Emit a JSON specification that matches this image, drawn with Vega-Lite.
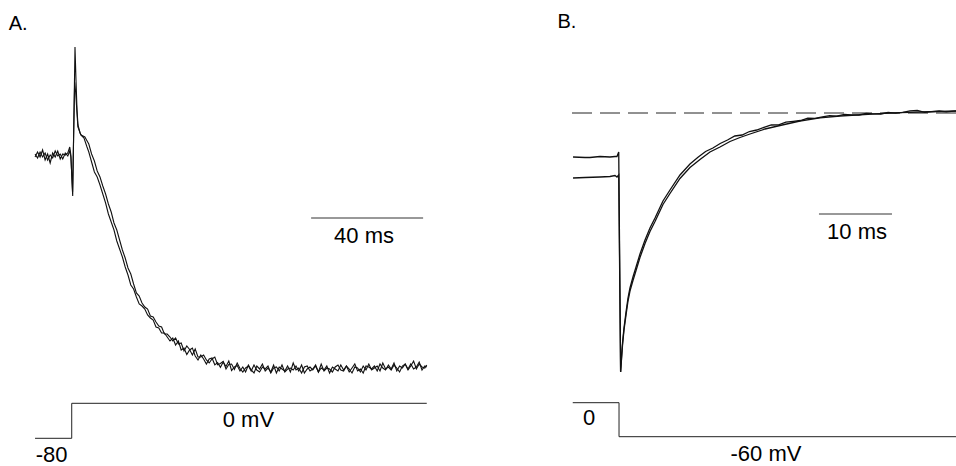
{
"$schema":"https://vega.github.io/schema/vega-lite/v6.json",
"padding":0,
"background":"white",
"config":{"view":{"stroke":null},"font":"Liberation Sans"},
"spacing":126,
"bounds":"flush",
"hconcat":[
{
"width":427,"height":466,
"resolve":{"scale":{"y":"independent"}},
"layer":[
{
"layer":[
{
"data":{"values":[
{"s":1,"t":-13.2,"i":2.10},{"s":1,"t":-12.3,"i":2.15},{"s":1,"t":-11.4,"i":2.10},{"s":1,"t":-10.5,"i":2.17},{"s":1,"t":-9.6,"i":2.07},{"s":1,"t":-8.7,"i":2.13},{"s":1,"t":-7.8,"i":2.04},{"s":1,"t":-6.9,"i":2.14},{"s":1,"t":-6.0,"i":2.10},{"s":1,"t":-5.1,"i":2.16},{"s":1,"t":-4.2,"i":2.08},{"s":1,"t":-3.3,"i":2.13},{"s":1,"t":-2.4,"i":2.12},{"s":1,"t":-1.5,"i":2.14},{"s":1,"t":-0.8,"i":2.20},{"s":1,"t":-0.4,"i":2.12},{"s":1,"t":0.25,"i":1.71},{"s":1,"t":1.07,"i":3.20},{"s":1,"t":1.43,"i":2.87},{"s":1,"t":1.79,"i":2.57},{"s":1,"t":2.14,"i":2.42},{"s":1,"t":2.86,"i":2.34},{"s":1,"t":3.5,"i":2.31},{"s":1,"t":4.29,"i":2.29},{"s":1,"t":5.36,"i":2.20},
{"s":1,"t":6,"i":2.15},{"s":1,"t":7,"i":2.05},{"s":1,"t":8,"i":1.95},{"s":1,"t":9,"i":1.90},{"s":1,"t":10,"i":1.82},{"s":1,"t":11,"i":1.73},{"s":1,"t":12,"i":1.64},{"s":1,"t":13,"i":1.53},{"s":1,"t":14,"i":1.45},{"s":1,"t":15,"i":1.37},{"s":1,"t":16,"i":1.26},{"s":1,"t":17,"i":1.18},{"s":1,"t":18,"i":1.10},{"s":1,"t":19,"i":1.00},
{"s":1,"t":20,"i":0.92},{"s":1,"t":21,"i":0.82},{"s":1,"t":22,"i":0.78},{"s":1,"t":23,"i":0.70},{"s":1,"t":24,"i":0.63},{"s":1,"t":25,"i":0.61},{"s":1,"t":26,"i":0.58},{"s":1,"t":27,"i":0.52},{"s":1,"t":28,"i":0.49},{"s":1,"t":29,"i":0.47},{"s":1,"t":30,"i":0.40},{"s":1,"t":31,"i":0.39},{"s":1,"t":32,"i":0.34},{"s":1,"t":33,"i":0.34},{"s":1,"t":34,"i":0.30},{"s":1,"t":35,"i":0.26},
{"s":1,"t":36,"i":0.29},{"s":1,"t":37,"i":0.22},{"s":1,"t":38,"i":0.26},{"s":1,"t":39,"i":0.17},{"s":1,"t":40,"i":0.19},{"s":1,"t":41,"i":0.125},{"s":1,"t":42,"i":0.17},{"s":1,"t":43,"i":0.19},{"s":1,"t":44,"i":0.11},{"s":1,"t":45,"i":0.07},{"s":1,"t":46,"i":0.12},{"s":1,"t":47,"i":0.08},{"s":1,"t":48,"i":0.03},{"s":1,"t":49,"i":0.08},{"s":1,"t":50,"i":0.09},{"s":1,"t":51,"i":0.022},{"s":1,"t":52,"i":0.045},{"s":1,"t":53,"i":-0.003},{"s":1,"t":54,"i":0.05},{"s":1,"t":55,"i":0.005},{"s":1,"t":56,"i":0.06},{"s":1,"t":57,"i":-0.035},{"s":1,"t":58,"i":0.0},{"s":1,"t":59,"i":0.015},{"s":1,"t":60,"i":-0.04},
{"s":1,"t":61,"i":0.0},{"s":1,"t":62,"i":-0.05},{"s":1,"t":63,"i":0.02},{"s":1,"t":64,"i":-0.03},{"s":1,"t":65,"i":-0.06},{"s":1,"t":66,"i":0.01},{"s":1,"t":67,"i":-0.02},{"s":1,"t":68,"i":0.03},{"s":1,"t":69,"i":-0.04},{"s":1,"t":70,"i":-0.01},{"s":1,"t":71,"i":-0.05},{"s":1,"t":72,"i":0.02},{"s":1,"t":73,"i":-0.06},{"s":1,"t":74,"i":0.0},{"s":1,"t":75,"i":-0.02},{"s":1,"t":76,"i":-0.04},{"s":1,"t":77,"i":0.01},{"s":1,"t":78,"i":-0.05},{"s":1,"t":79,"i":0.04},{"s":1,"t":80,"i":-0.03},{"s":1,"t":81,"i":-0.01},{"s":1,"t":82,"i":-0.06},{"s":1,"t":83,"i":0.0},{"s":1,"t":84,"i":0.01},{"s":1,"t":85,"i":-0.04},{"s":1,"t":86,"i":-0.02},{"s":1,"t":87,"i":0.02},{"s":1,"t":88,"i":-0.05},{"s":1,"t":89,"i":-0.01},{"s":1,"t":90,"i":-0.03},{"s":1,"t":91,"i":0.01},{"s":1,"t":92,"i":-0.06},{"s":1,"t":93,"i":0.0},{"s":1,"t":94,"i":-0.02},{"s":1,"t":95,"i":-0.04},{"s":1,"t":96,"i":0.02},{"s":1,"t":97,"i":-0.03},{"s":1,"t":98,"i":0.01},{"s":1,"t":99,"i":-0.05},{"s":1,"t":100,"i":-0.01},{"s":1,"t":101,"i":0.03},{"s":1,"t":102,"i":-0.04},{"s":1,"t":103,"i":-0.02},{"s":1,"t":104,"i":-0.06},{"s":1,"t":105,"i":0.01},{"s":1,"t":106,"i":0.0},{"s":1,"t":107,"i":-0.02},{"s":1,"t":108,"i":0.01},{"s":1,"t":109,"i":-0.04},{"s":1,"t":110,"i":0.03},{"s":1,"t":111,"i":-0.01},{"s":1,"t":112,"i":-0.03},{"s":1,"t":113,"i":0.02},{"s":1,"t":114,"i":-0.02},{"s":1,"t":115,"i":0.04},{"s":1,"t":116,"i":-0.04},{"s":1,"t":117,"i":0.01},{"s":1,"t":118,"i":-0.01},{"s":1,"t":119,"i":0.03},{"s":1,"t":120,"i":-0.03},{"s":1,"t":121,"i":0.01},{"s":1,"t":122,"i":0.06},{"s":1,"t":123,"i":-0.02},{"s":1,"t":124,"i":0.03},{"s":1,"t":125,"i":0.0},{"s":1,"t":126,"i":-0.01},{"s":1,"t":126.7,"i":0.02},
{"s":2,"t":-13.2,"i":2.13},{"s":2,"t":-12.3,"i":2.09},{"s":2,"t":-11.4,"i":2.15},{"s":2,"t":-10.5,"i":2.10},{"s":2,"t":-9.6,"i":2.14},{"s":2,"t":-8.7,"i":2.07},{"s":2,"t":-7.8,"i":2.12},{"s":2,"t":-6.9,"i":2.09},{"s":2,"t":-6.0,"i":2.16},{"s":2,"t":-5.1,"i":2.11},{"s":2,"t":-4.2,"i":2.13},{"s":2,"t":-3.3,"i":2.08},{"s":2,"t":-2.4,"i":2.14},{"s":2,"t":-1.5,"i":2.11},{"s":2,"t":-0.8,"i":2.16},{"s":2,"t":-0.4,"i":2.10},{"s":2,"t":0.2,"i":1.75},{"s":2,"t":0.95,"i":2.85},{"s":2,"t":1.3,"i":2.75},{"s":2,"t":1.6,"i":2.62},{"s":2,"t":2.1,"i":2.40},{"s":2,"t":3.2,"i":2.32},{"s":2,"t":4.6,"i":2.30},{"s":2,"t":5,"i":2.28},
{"s":2,"t":6,"i":2.23},{"s":2,"t":7,"i":2.13},{"s":2,"t":8,"i":2.06},{"s":2,"t":9,"i":1.96},{"s":2,"t":10,"i":1.90},{"s":2,"t":11,"i":1.81},{"s":2,"t":12,"i":1.73},{"s":2,"t":13,"i":1.63},{"s":2,"t":14,"i":1.55},{"s":2,"t":15,"i":1.44},{"s":2,"t":16,"i":1.37},{"s":2,"t":17,"i":1.27},{"s":2,"t":18,"i":1.17},{"s":2,"t":19,"i":1.09},
{"s":2,"t":20,"i":0.99},{"s":2,"t":21,"i":0.93},{"s":2,"t":22,"i":0.83},{"s":2,"t":23,"i":0.74},{"s":2,"t":24,"i":0.71},{"s":2,"t":25,"i":0.64},{"s":2,"t":26,"i":0.60},{"s":2,"t":27,"i":0.58},{"s":2,"t":28,"i":0.51},{"s":2,"t":29,"i":0.50},{"s":2,"t":30,"i":0.45},{"s":2,"t":31,"i":0.41},{"s":2,"t":32,"i":0.40},{"s":2,"t":33,"i":0.33},{"s":2,"t":34,"i":0.33},{"s":2,"t":35,"i":0.30},
{"s":2,"t":36,"i":0.26},{"s":2,"t":37,"i":0.29},{"s":2,"t":38,"i":0.23},{"s":2,"t":39,"i":0.24},{"s":2,"t":40,"i":0.16},{"s":2,"t":41,"i":0.21},{"s":2,"t":42,"i":0.175},{"s":2,"t":43,"i":0.12},{"s":2,"t":44,"i":0.18},{"s":2,"t":45,"i":0.10},{"s":2,"t":46,"i":0.10},{"s":2,"t":47,"i":0.12},{"s":2,"t":48,"i":0.07},{"s":2,"t":49,"i":0.04},{"s":2,"t":50,"i":0.08},{"s":2,"t":51,"i":0.10},{"s":2,"t":52,"i":0.022},{"s":2,"t":53,"i":0.035},{"s":2,"t":54,"i":0.057},{"s":2,"t":55,"i":-0.02},{"s":2,"t":56,"i":0.025},{"s":2,"t":57,"i":0.03},{"s":2,"t":58,"i":-0.025},{"s":2,"t":59,"i":0.04},{"s":2,"t":60,"i":-0.015},
{"s":2,"t":61,"i":-0.05},{"s":2,"t":62,"i":-0.01},{"s":2,"t":63,"i":0.01},{"s":2,"t":64,"i":-0.04},{"s":2,"t":65,"i":0.02},{"s":2,"t":66,"i":-0.03},{"s":2,"t":67,"i":-0.05},{"s":2,"t":68,"i":0.0},{"s":2,"t":69,"i":-0.02},{"s":2,"t":70,"i":0.01},{"s":2,"t":71,"i":-0.06},{"s":2,"t":72,"i":-0.01},{"s":2,"t":73,"i":0.0},{"s":2,"t":74,"i":-0.04},{"s":2,"t":75,"i":0.02},{"s":2,"t":76,"i":-0.05},{"s":2,"t":77,"i":-0.02},{"s":2,"t":78,"i":-0.01},{"s":2,"t":79,"i":-0.03},{"s":2,"t":80,"i":0.01},{"s":2,"t":81,"i":-0.04},{"s":2,"t":82,"i":0.02},{"s":2,"t":83,"i":-0.06},{"s":2,"t":84,"i":-0.02},{"s":2,"t":85,"i":0.0},{"s":2,"t":86,"i":-0.03},{"s":2,"t":87,"i":0.01},{"s":2,"t":88,"i":-0.05},{"s":2,"t":89,"i":0.03},{"s":2,"t":90,"i":-0.04},{"s":2,"t":91,"i":-0.01},{"s":2,"t":92,"i":-0.02},{"s":2,"t":93,"i":-0.05},{"s":2,"t":94,"i":0.0},{"s":2,"t":95,"i":0.02},{"s":2,"t":96,"i":-0.03},{"s":2,"t":97,"i":-0.04},{"s":2,"t":98,"i":0.01},{"s":2,"t":99,"i":-0.02},{"s":2,"t":100,"i":-0.06},{"s":2,"t":101,"i":0.0},{"s":2,"t":102,"i":-0.01},{"s":2,"t":103,"i":-0.05},{"s":2,"t":104,"i":0.01},{"s":2,"t":105,"i":-0.03},{"s":2,"t":106,"i":0.03},{"s":2,"t":107,"i":-0.03},{"s":2,"t":108,"i":-0.01},{"s":2,"t":109,"i":0.01},{"s":2,"t":110,"i":-0.04},{"s":2,"t":111,"i":0.04},{"s":2,"t":112,"i":-0.02},{"s":2,"t":113,"i":0.0},{"s":2,"t":114,"i":-0.03},{"s":2,"t":115,"i":0.02},{"s":2,"t":116,"i":-0.01},{"s":2,"t":117,"i":-0.05},{"s":2,"t":118,"i":0.01},{"s":2,"t":119,"i":0.03},{"s":2,"t":120,"i":-0.02},{"s":2,"t":121,"i":0.03},{"s":2,"t":122,"i":-0.02},{"s":2,"t":123,"i":0.0},{"s":2,"t":124,"i":0.05},{"s":2,"t":125,"i":-0.03},{"s":2,"t":126,"i":0.01},{"s":2,"t":126.7,"i":0.0}
]},
"mark":{"type":"line","color":"#111","strokeWidth":1.1,"strokeJoin":"miter"},
"encoding":{
"x":{"field":"t","type":"quantitative","scale":{"domain":[-25.714,126.786],"nice":false,"zero":false},"axis":null},
"y":{"field":"i","type":"quantitative","scale":{"domain":[-0.99,3.67],"nice":false,"zero":false},"axis":null},
"detail":{"field":"s"}
}
},
{
"data":{"values":[{"t0":85.4,"t1":125.4,"i":1.49}]},
"mark":{"type":"rule","color":"#333","strokeWidth":1},
"encoding":{
"x":{"field":"t0","type":"quantitative","scale":{"domain":[-25.714,126.786],"nice":false,"zero":false},"axis":null},
"x2":{"field":"t1"},
"y":{"field":"i","type":"quantitative","scale":{"domain":[-0.99,3.67],"nice":false,"zero":false},"axis":null}
}
},
{
"data":{"values":[{"t":104.3,"i":1.24,"label":"40 ms"}]},
"mark":{"type":"text","fontSize":22,"align":"center","baseline":"alphabetic","color":"#000"},
"encoding":{
"x":{"field":"t","type":"quantitative","scale":{"domain":[-25.714,126.786],"nice":false,"zero":false},"axis":null},
"y":{"field":"i","type":"quantitative","scale":{"domain":[-0.99,3.67],"nice":false,"zero":false},"axis":null},
"text":{"field":"label"}
}
},
{
"data":{"values":[{"t":-22.6,"i":3.37,"label":"A."}]},
"mark":{"type":"text","fontSize":20,"align":"left","baseline":"alphabetic","color":"#000"},
"encoding":{
"x":{"field":"t","type":"quantitative","scale":{"domain":[-25.714,126.786],"nice":false,"zero":false},"axis":null},
"y":{"field":"i","type":"quantitative","scale":{"domain":[-0.99,3.67],"nice":false,"zero":false},"axis":null},
"text":{"field":"label"}
}
}
]
},
{
"layer":[
{
"data":{"values":[{"k":1,"t":-13.2,"v":-80},{"k":2,"t":-0.1,"v":-80},{"k":3,"t":-0.1,"v":0},{"k":4,"t":126.7,"v":0}]},
"mark":{"type":"line","color":"#222","strokeWidth":1},
"encoding":{
"x":{"field":"t","type":"quantitative","scale":{"domain":[-25.714,126.786],"nice":false,"zero":false},"axis":null},
"y":{"field":"v","type":"quantitative","scale":{"domain":[-143.3,921.8],"nice":false,"zero":false},"axis":null},
"order":{"field":"k"}
}
},
{
"data":{"values":[{"t":63.0,"v":-54.2,"label":"0 mV"},{"t":-7.3,"v":-134.2,"label":"-80"}]},
"mark":{"type":"text","fontSize":22,"align":"center","baseline":"alphabetic","color":"#000"},
"encoding":{
"x":{"field":"t","type":"quantitative","scale":{"domain":[-25.714,126.786],"nice":false,"zero":false},"axis":null},
"y":{"field":"v","type":"quantitative","scale":{"domain":[-143.3,921.8],"nice":false,"zero":false},"axis":null},
"text":{"field":"label"}
}
}
]
}
]
},
{
"width":403,"height":466,
"resolve":{"scale":{"y":"independent"}},
"layer":[
{
"layer":[
{
"data":{"values":[{"t0":-6.3,"t1":46.3,"i":0}]},
"mark":{"type":"rule","color":"#222","strokeWidth":1,"strokeDash":[20,8]},
"encoding":{
"x":{"field":"t0","type":"quantitative","scale":{"domain":[-8.904,46.301],"nice":false,"zero":false},"axis":null},
"x2":{"field":"t1"},
"y":{"field":"i","type":"quantitative","scale":{"domain":[-3.53,1.13],"nice":false,"zero":false},"axis":null}
}
},
{
"data":{"values":[
{"s":1,"t":-6.16,"i":-0.44},{"s":1,"t":-4.52,"i":-0.445},{"s":1,"t":-3.84,"i":-0.445},{"s":1,"t":-2.47,"i":-0.435},{"s":1,"t":-1.10,"i":-0.44},{"s":1,"t":-0.41,"i":-0.435},{"s":1,"t":-0.14,"i":-0.435},{"s":1,"t":0.10,"i":-0.39},{"s":1,"t":0.36,"i":-2.59},
{"s":1,"t":0.48,"i":-2.45},{"s":1,"t":0.62,"i":-2.30},{"s":1,"t":0.82,"i":-2.15},{"s":1,"t":1.10,"i":-1.99},{"s":1,"t":1.37,"i":-1.85},{"s":1,"t":1.64,"i":-1.75},{"s":1,"t":2.05,"i":-1.64},{"s":1,"t":2.47,"i":-1.54},{"s":1,"t":3.01,"i":-1.41},{"s":1,"t":3.70,"i":-1.27},{"s":1,"t":4.38,"i":-1.15},{"s":1,"t":5.07,"i":-1.05},{"s":1,"t":6.16,"i":-0.88},{"s":1,"t":7.12,"i":-0.77},{"s":1,"t":8.49,"i":-0.62},{"s":1,"t":9.86,"i":-0.51},{"s":1,"t":11.0,"i":-0.44},
{"s":1,"t":12,"i":-0.385},{"s":1,"t":13,"i":-0.35},{"s":1,"t":14,"i":-0.305},{"s":1,"t":15,"i":-0.27},{"s":1,"t":16,"i":-0.23},{"s":1,"t":17,"i":-0.22},{"s":1,"t":18,"i":-0.185},{"s":1,"t":19,"i":-0.17},{"s":1,"t":20,"i":-0.143},{"s":1,"t":21,"i":-0.12},{"s":1,"t":22,"i":-0.118},{"s":1,"t":23,"i":-0.092},{"s":1,"t":24,"i":-0.083},{"s":1,"t":25,"i":-0.075},{"s":1,"t":26,"i":-0.052},{"s":1,"t":27,"i":-0.053},{"s":1,"t":28,"i":-0.039},{"s":1,"t":29,"i":-0.027},{"s":1,"t":30,"i":-0.032},{"s":1,"t":31,"i":-0.014},{"s":1,"t":32,"i":-0.019},{"s":1,"t":33,"i":-0.02},{"s":1,"t":34,"i":-0.004},{"s":1,"t":35,"i":-0.008},{"s":1,"t":36,"i":-0.01},{"s":1,"t":37,"i":0.006},{"s":1,"t":38,"i":-0.002},{"s":1,"t":39,"i":0.006},{"s":1,"t":40,"i":0.022},{"s":1,"t":41,"i":0.026},{"s":1,"t":42,"i":0.006},{"s":1,"t":43,"i":0.013},{"s":1,"t":44,"i":0.02},{"s":1,"t":45,"i":0.012},{"s":1,"t":46,"i":0.019},{"s":1,"t":46.3,"i":0.02},
{"s":2,"t":-6.16,"i":-0.65},{"s":2,"t":-4.52,"i":-0.645},{"s":2,"t":-2.47,"i":-0.64},{"s":2,"t":-1.10,"i":-0.635},{"s":2,"t":-0.41,"i":-0.625},{"s":2,"t":-0.14,"i":-0.64},{"s":2,"t":0.10,"i":-0.62},{"s":2,"t":0.36,"i":-2.59},
{"s":2,"t":0.48,"i":-2.46},{"s":2,"t":0.62,"i":-2.32},{"s":2,"t":0.82,"i":-2.17},{"s":2,"t":1.10,"i":-2.02},{"s":2,"t":1.37,"i":-1.88},{"s":2,"t":1.64,"i":-1.78},{"s":2,"t":2.05,"i":-1.675},{"s":2,"t":2.47,"i":-1.575},{"s":2,"t":3.01,"i":-1.445},{"s":2,"t":3.70,"i":-1.305},{"s":2,"t":4.38,"i":-1.185},{"s":2,"t":5.07,"i":-1.085},{"s":2,"t":6.16,"i":-0.915},{"s":2,"t":7.12,"i":-0.805},{"s":2,"t":8.49,"i":-0.655},{"s":2,"t":9.86,"i":-0.545},{"s":2,"t":11.23,"i":-0.465},{"s":2,"t":12.60,"i":-0.39},{"s":2,"t":13.97,"i":-0.34},{"s":2,"t":15.34,"i":-0.285},{"s":2,"t":16.71,"i":-0.245},{"s":2,"t":18.08,"i":-0.21},{"s":2,"t":20.14,"i":-0.16},{"s":2,"t":22.19,"i":-0.125},{"s":2,"t":24.93,"i":-0.08},{"s":2,"t":27.67,"i":-0.048},{"s":2,"t":30.41,"i":-0.03},{"s":2,"t":33.15,"i":-0.018},{"s":2,"t":35.89,"i":-0.007},{"s":2,"t":38.63,"i":0.004},{"s":2,"t":41.37,"i":0.01},{"s":2,"t":44.11,"i":0.015},{"s":2,"t":46.3,"i":0.02}
]},
"mark":{"type":"line","color":"#111","strokeWidth":1.3},
"encoding":{
"x":{"field":"t","type":"quantitative","scale":{"domain":[-8.904,46.301],"nice":false,"zero":false},"axis":null},
"y":{"field":"i","type":"quantitative","scale":{"domain":[-3.53,1.13],"nice":false,"zero":false},"axis":null},
"detail":{"field":"s"}
}
},
{
"data":{"values":[{"t0":27.53,"t1":37.53,"i":-1.01}]},
"mark":{"type":"rule","color":"#333","strokeWidth":1},
"encoding":{
"x":{"field":"t0","type":"quantitative","scale":{"domain":[-8.904,46.301],"nice":false,"zero":false},"axis":null},
"x2":{"field":"t1"},
"y":{"field":"i","type":"quantitative","scale":{"domain":[-3.53,1.13],"nice":false,"zero":false},"axis":null}
}
},
{
"data":{"values":[{"t":32.74,"i":-1.26,"label":"10 ms"}]},
"mark":{"type":"text","fontSize":22,"align":"center","baseline":"alphabetic","color":"#000"},
"encoding":{
"x":{"field":"t","type":"quantitative","scale":{"domain":[-8.904,46.301],"nice":false,"zero":false},"axis":null},
"y":{"field":"i","type":"quantitative","scale":{"domain":[-3.53,1.13],"nice":false,"zero":false},"axis":null},
"text":{"field":"label"}
}
},
{
"data":{"values":[{"t":-8.3,"i":0.85,"label":"B."}]},
"mark":{"type":"text","fontSize":20,"align":"left","baseline":"alphabetic","color":"#000"},
"encoding":{
"x":{"field":"t","type":"quantitative","scale":{"domain":[-8.904,46.301],"nice":false,"zero":false},"axis":null},
"y":{"field":"i","type":"quantitative","scale":{"domain":[-3.53,1.13],"nice":false,"zero":false},"axis":null},
"text":{"field":"label"}
}
}
]
},
{
"layer":[
{
"data":{"values":[{"k":1,"t":-6.2,"v":0},{"k":2,"t":0.14,"v":0},{"k":3,"t":0.14,"v":-60},{"k":4,"t":46.3,"v":-60}]},
"mark":{"type":"line","color":"#222","strokeWidth":1},
"encoding":{
"x":{"field":"t","type":"quantitative","scale":{"domain":[-8.904,46.301],"nice":false,"zero":false},"axis":null},
"y":{"field":"v","type":"quantitative","scale":{"domain":[-111.7,710.6],"nice":false,"zero":false},"axis":null},
"order":{"field":"k"}
}
},
{
"data":{"values":[{"t":-3.97,"v":-39.4,"label":"0"},{"t":20.27,"v":-103.0,"label":"-60 mV"}]},
"mark":{"type":"text","fontSize":22,"align":"center","baseline":"alphabetic","color":"#000"},
"encoding":{
"x":{"field":"t","type":"quantitative","scale":{"domain":[-8.904,46.301],"nice":false,"zero":false},"axis":null},
"y":{"field":"v","type":"quantitative","scale":{"domain":[-111.7,710.6],"nice":false,"zero":false},"axis":null},
"text":{"field":"label"}
}
}
]
}
]
}
]
}
